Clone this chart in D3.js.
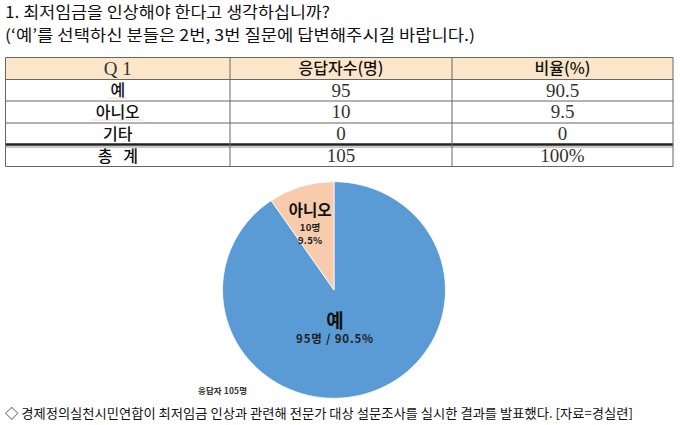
<!DOCTYPE html>
<html><head><meta charset="utf-8">
<script src="https://cdn.jsdelivr.net/npm/d3@7"></script>
<style>
html,body{margin:0;padding:0;background:#fff;}
svg{display:block;}
</style></head>
<body>
<svg id="c" width="680" height="425"></svg>
<script>
const titleLines = ["1. 최저임금을 인상해야 한다고 생각하십니까?", "(‘예’를 선택하신 분들은 2번, 3번 질문에 답변해주시길 바랍니다.)"];
const headers = ["Q 1", "응답자수(명)", "비율(%)"];
const categories = ["예", "아니오", "기타"];
const counts = [95, 10, 0];
const percents = ["90.5", "9.5", "0"];
const totalLabel = "총   계";
const totalCount = "105";
const totalPercent = "100%";
const pieLabels = ["예", "아니오"];
const pieSubs = [["95명 / 90.5%"], ["10명", "9.5%"]];
const respondents = "응답자 105명";
const caption = "◇ 경제정의실천시민연합이 최저임금 인상과 관련해 전문가 대상 설문조사를 실시한 결과를 발표했다. [자료=경실련]";
const colors = ["#5b9bd5", "#f8cbad", "#a5a5a5"];

const svg = d3.select("#c");
const KR = "'Noto Sans CJK KR','Noto Sans',sans-serif";
const SERIF = "'Liberation Serif','DejaVu Serif',serif";

// Titles
svg.append("text").attr("x", 5).attr("y", 18).attr("font-family", KR).attr("font-size", 16)
  .attr("fill", "#111").attr("textLength", 325).attr("lengthAdjust", "spacingAndGlyphs").text(titleLines[0]);
svg.append("text").attr("x", 5).attr("y", 41).attr("font-family", KR).attr("font-size", 16)
  .attr("fill", "#111").attr("textLength", 470).attr("lengthAdjust", "spacingAndGlyphs").text(titleLines[1]);

// Table
const colEdges = [5.5, 230, 452, 673];
const rowEdges = [57.5, 79.5, 101, 123, 145, 166.5];
const x = d3.scaleOrdinal().domain([0,1,2]).range([0,1,2].map(i => (colEdges[i] + colEdges[i+1]) / 2));
const rows = [headers].concat(categories.map((c, i) => [c, String(counts[i]), percents[i]]))
  .concat([[totalLabel, totalCount, totalPercent]]);

const tbl = svg.append("g");
tbl.append("rect").attr("x", colEdges[0]).attr("y", rowEdges[0])
  .attr("width", colEdges[3] - colEdges[0]).attr("height", rowEdges[1] - rowEdges[0]).attr("fill", "#fce6c9");
rowEdges.forEach((y, i) => {
  if (i === 4) {
    tbl.append("line").attr("x1", colEdges[0]).attr("x2", colEdges[3]).attr("y1", y - 0.5).attr("y2", y - 0.5)
      .attr("stroke", "#222").attr("stroke-width", 2.5);
    tbl.append("line").attr("x1", colEdges[0]).attr("x2", colEdges[3]).attr("y1", y + 2).attr("y2", y + 2)
      .attr("stroke", "#777").attr("stroke-width", 0.8);
  } else {
    tbl.append("line").attr("x1", colEdges[0]).attr("x2", colEdges[3]).attr("y1", y).attr("y2", y)
      .attr("stroke", "#666").attr("stroke-width", 1);
  }
});
colEdges.forEach(cx => {
  tbl.append("line").attr("x1", cx).attr("x2", cx).attr("y1", rowEdges[0]).attr("y2", rowEdges[5])
    .attr("stroke", "#666").attr("stroke-width", 1);
});
rows.forEach((r, ri) => {
  const cy = (rowEdges[ri] + rowEdges[ri + 1]) / 2 + (ri === 5 ? 1 : 0);
  r.forEach((v, ci) => {
    const isNum = /^[0-9Q]/.test(v);
    tbl.append("text").attr("x", x(ci)).attr("y", cy).attr("dy", isNum ? "0.34em" : "0.36em")
      .attr("text-anchor", "middle")
      .attr("font-family", isNum ? SERIF : KR)
      .attr("font-size", isNum ? 19 : 16)
      .attr("font-weight", isNum ? 400 : 500)
      .attr("fill", isNum ? "#333" : "#111")
      .attr("xml:space", "preserve")
      .style("white-space", "pre")
      .text(v);
  });
});
[[1, 10], [2, 26]].forEach(([ri, hw]) => {
  const yy = rowEdges[ri + 1] - 3;
  tbl.append("line").attr("x1", x(0) - hw).attr("x2", x(0) + hw).attr("y1", yy).attr("y2", yy)
    .attr("stroke", "#e8b890").attr("stroke-width", 1).attr("stroke-dasharray", "1,1");
});

// Pie
const cx = 334, cy = 290, rx = 111.5, ry = 108.3;
const pie = d3.pie().sort(null).value(d => d)(counts.slice(0, 2));
const arc = d3.arc().innerRadius(0).outerRadius(rx);
const pg = svg.append("g").attr("transform", `translate(${cx},${cy}) scale(1,${ry / rx})`);
pg.selectAll("path").data(pie).join("path")
  .attr("d", arc).attr("fill", (d, i) => colors[i])
  .attr("stroke", "#fff").attr("stroke-width", 0.8);

// labels
const labArc = d3.arc().innerRadius(84).outerRadius(84);
const c1 = labArc.centroid(pie[1]);
const lx1 = cx + c1[0] + 1, ly1 = cy + c1[1] * ry / rx;
svg.append("text").attr("x", lx1).attr("y", ly1 - 1.5).attr("dy", "0.36em").attr("text-anchor", "middle")
  .attr("font-family", KR).attr("font-weight", 700).attr("font-size", 15.5).attr("fill", "#111").text(pieLabels[1]);
pieSubs[1].forEach((s, i) => {
  svg.append("text").attr("x", lx1).attr("y", ly1 + 16 + i * 12.5).attr("dy", "0.36em").attr("text-anchor", "middle")
    .attr("font-family", KR).attr("font-weight", 700).attr("font-size", 9.5).attr("fill", "#222")
    .attr("letter-spacing", 0.3).text(s);
});
svg.append("text").attr("x", cx + 1).attr("y", cy + 31).attr("dy", "0.36em").attr("text-anchor", "middle")
  .attr("font-family", KR).attr("font-weight", 700).attr("font-size", 19).attr("fill", "#111").text(pieLabels[0]);
svg.append("text").attr("x", cx + 1).attr("y", cy + 49).attr("dy", "0.36em").attr("text-anchor", "middle")
  .attr("font-family", KR).attr("font-weight", 700).attr("font-size", 11.5).attr("fill", "#222")
  .attr("letter-spacing", 0.8)
  .attr("xml:space", "preserve").style("white-space", "pre").text(pieSubs[0][0]);

svg.append("text").attr("x", 198).attr("y", 391).attr("dy", "0.36em")
  .attr("font-family", KR).attr("font-weight", 700).attr("font-size", 8.5).attr("fill", "#333")
  .attr("textLength", 49).attr("lengthAdjust", "spacing").text(respondents);

// caption
svg.append("text").attr("x", 5).attr("y", 413).attr("dy", "0.36em")
  .attr("font-family", KR).attr("font-size", 13).attr("fill", "#111")
  .attr("textLength", 628).attr("lengthAdjust", "spacingAndGlyphs").text(caption);
</script>
</body></html>
